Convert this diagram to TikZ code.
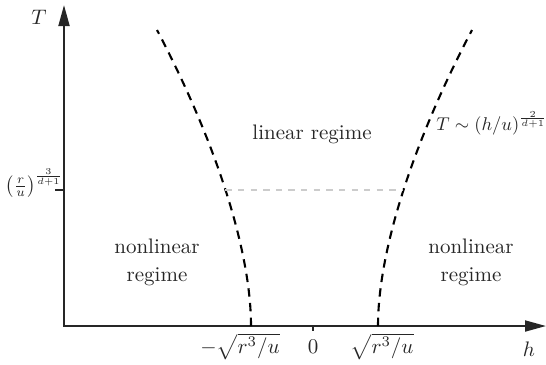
\documentclass[tikz,border=0pt]{standalone}
\usetikzlibrary{arrows.meta,intersections}
\begin{document}
\begin{tikzpicture}[x=0.476pt,y=-0.476pt,
  axis/.style={line width=1pt,color=black!85,{Triangle[length=10pt,width=5.2pt]}-{Triangle[length=10pt,width=5.2pt]}},
  tickmark/.style={line width=0.9pt,color=black!85},
  crit/.style={line width=1pt,dash pattern=on 4pt off 3pt},
  guide/.style={line width=0.8pt,color=black!20,dash pattern=on 3pt off 3pt},
  txt/.style={text=black!85},
  regime/.style={txt,align=center}]
\useasboundingbox (0,0) rectangle (546,364);
\coordinate (O) at (64,326);
\coordinate (Ttip) at (64,5);
\coordinate (htip) at (546,326);
\coordinate (ytick) at (64,190);
\coordinate (ytickend) at (55,190);
\coordinate (ztick) at (313,326);
\coordinate (ztickend) at (313,331);
\draw[axis] (Ttip) -- (O) -- (htip);
\draw[tickmark] (ytick) -- (ytickend);
\draw[tickmark,line width=0.6pt] (ztick) -- (ztickend);
% critical curves
\draw[crit, name path=L] (251,326) .. controls (251,250) and (215,140) .. (157,30);
\draw[crit, name path=R] (378,326) .. controls (378,250) and (414,140) .. (472,30);
\path[name path=H] (ytick) -- (545,190);
\path[name intersections={of=L and H, by=Lx}];
\path[name intersections={of=R and H, by=Rx}];
\draw[guide] (Lx) -- (Rx);
% labels
\node[txt] (Tlab) at (39,17) {$T$};
\node[txt] (hlab) at (529,349) {$h$};
\node[txt,anchor=east,inner sep=0pt,scale=0.86] (ylab) at (63,183) {$\bigl(\frac{r}{u}\bigr)^{\frac{3}{d+1}}$};
\node[txt,anchor=base] (mlab) at (240,353) {$-\sqrt{r^3/u}$};
\node[txt,anchor=base] (zlab) at (313,353) {$0$};
\node[txt,anchor=base] (plab) at (382,353) {$\sqrt{r^3/u}$};
\node[regime] (nl) at (157,262) {nonlinear\\[1.3pt]regime};
\node[regime] (nr) at (471,262) {nonlinear\\[1.3pt]regime};
\node[txt] (lin) at (312,134) {linear regime};
\node[txt,anchor=base west,inner sep=0pt,scale=0.88] (law) at (436,130) {$T\sim(h/u)^{\frac{2}{d+1}}$};
\end{tikzpicture}
\end{document}
